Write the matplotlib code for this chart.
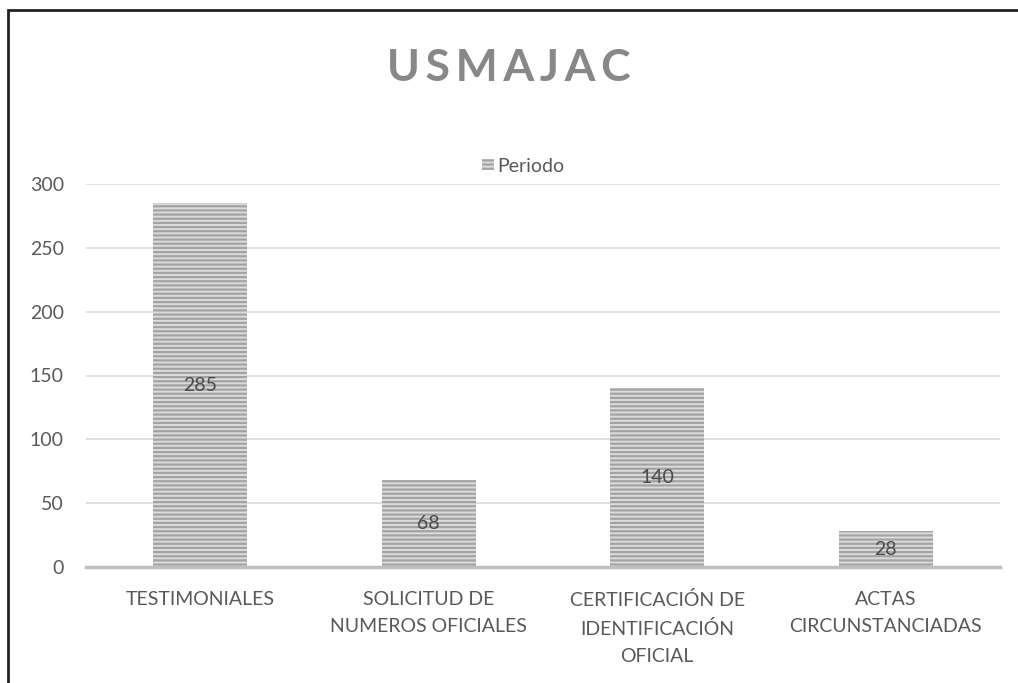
import matplotlib.pyplot as plt
from matplotlib.patches import Rectangle

plt.rcParams['font.family'] = ['Lato', 'DejaVu Sans']
plt.rcParams['hatch.linewidth'] = 1.6

categories = ["TESTIMONIALES", "SOLICITUD DE\nNUMEROS OFICIALES",
              "CERTIFICACIÓN DE\nIDENTIFICACIÓN\nOFICIAL", "ACTAS\nCIRCUNSTANCIADAS"]
values = [285, 68, 140, 28]
yticks = [0, 50, 100, 150, 200, 250, 300]
series_name = "Periodo"

fig = plt.figure(figsize=(10.18, 6.83), dpi=100)
ax = fig.add_axes([86 / 1018, 1 - 567 / 683, 914 / 1018, 383 / 683])

x = range(len(categories))
bars = ax.bar(x, values, width=0.41, facecolor='#dcdcdc', hatch='----',
              edgecolor='#a3a3a3', linewidth=0, label=series_name, zorder=2)

for b, v in zip(bars, values):
    ax.text(b.get_x() + b.get_width() / 2, v / 2, str(v), ha='center', va='center',
            fontsize=14, color='#4a4a4a', zorder=3)

ax.set_xlim(-0.5, len(categories) - 0.5)
ax.set_ylim(0, 300)
ax.set_yticks(yticks)
ax.grid(axis='y', color='#d9d9d9', linewidth=1.2, zorder=0)
ax.set_axisbelow(True)
for s in ['top', 'right', 'left']:
    ax.spines[s].set_visible(False)
ax.spines['bottom'].set_color('#bfbfbf')
ax.spines['bottom'].set_linewidth(2.5)
ax.spines['bottom'].set_zorder(4)
ax.tick_params(axis='both', length=0, labelsize=14, labelcolor='#595959')
ax.tick_params(axis='y', pad=16)
ax.tick_params(axis='x', pad=17)
ax.set_xticks(list(x))
ax.set_xticklabels(categories, linespacing=1.75)

fig.text(0.5, 1 - 68 / 683, "\u2009".join("USMAJAC"), ha='center', va='center',
         fontsize=32, fontweight='bold', color='#888888')

leg = ax.legend(loc='center', bbox_to_anchor=(0.478, 1 + 18 / 383),
                frameon=False, fontsize=14, handlelength=0.62, handleheight=0.5,
                handletextpad=0.15, labelcolor='#595959', borderaxespad=0)

fig.patches.append(Rectangle((8 / 1018, -0.1), 1.2, 1 - 10 / 683 + 0.1,
                             transform=fig.transFigure, fill=False,
                             edgecolor='#222222', linewidth=2))

plt.savefig("out.png", dpi=100)
